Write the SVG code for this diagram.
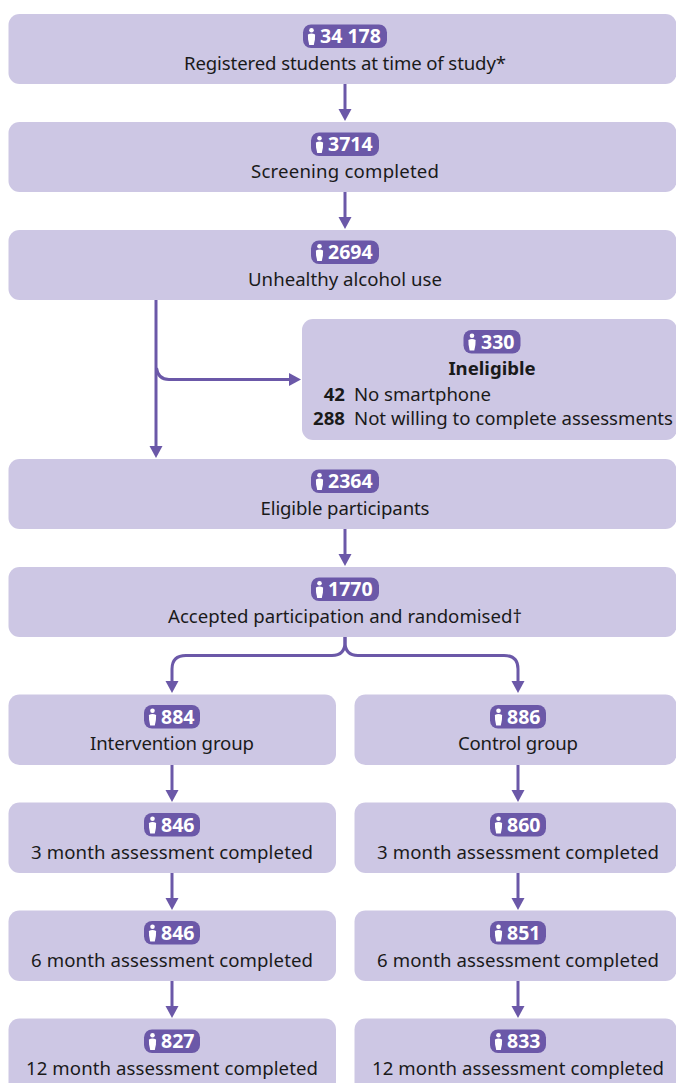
<svg xmlns="http://www.w3.org/2000/svg" width="676" height="1083" viewBox="0 0 676 1083">
<style>
text{font-family:"Noto Sans","Liberation Sans",sans-serif;fill:#1a1a1a;font-size:18.6px}
.c{text-anchor:middle}
.n{text-anchor:end;font-weight:700}
.t{font-weight:700}
.box{fill:#cdc7e4}
.pill{fill:#6b58a8}
.v{font-weight:700;fill:#fff;font-size:19.5px}
.con{fill:none;stroke:#6b58a8;stroke-width:3;marker-end:url(#ah)}
</style>
<defs>
<marker id="ah" markerUnits="userSpaceOnUse" markerWidth="13" markerHeight="14" refX="1" refY="7" orient="auto"><path d="M0 0.5L12 7L0 13.5Z" fill="#6b58a8"/></marker>
<g id="p"><circle cx="0" cy="5.800" r="2.300" fill="#fff"/><path d="M-3.600 10Q0 8.200 3.600 10L3.400 15L2.300 20.500H-2.300L-3.400 15Z" fill="#fff"/></g>
</defs>
<g id="connectors">
<path class="con" d="M345 84V110"/>
<path class="con" d="M345 192V218"/>
<path class="con" d="M156 300V447"/>
<path class="con" d="M156.500 368Q158 379.500 169 379.500H290"/>
<path class="con" d="M345 529V555"/>
<path class="con" d="M345 637V642Q345 655.500 332 655.500H186Q172 655.500 172 669V682"/>
<path class="con" d="M345 637V642Q345 655.500 358 655.500H504Q518 655.500 518 669V682"/>
<path class="con" d="M172 765V791"/><path class="con" d="M518 765V791"/>
<path class="con" d="M172 873V899"/><path class="con" d="M518 873V899"/>
<path class="con" d="M172 981V1007"/><path class="con" d="M518 981V1007"/>
</g>
<g id="n1"><rect class="box" x="8.500" y="14" width="668" height="70" rx="11"/><rect class="pill" x="303" y="24.500" width="84" height="23.500" rx="8"/><use href="#p" x="311.500" y="24.500"/><text class="v" x="320" y="43">34 178</text><text class="c" x="345" y="70" textLength="322">Registered students at time of study*</text></g>
<g id="n2"><rect class="box" x="8.500" y="122" width="668" height="70" rx="11"/><rect class="pill" x="311" y="132.500" width="68" height="23.500" rx="8"/><use href="#p" x="319.500" y="132.500"/><text class="v" x="328" y="151">3714</text><text class="c" x="345" y="178" textLength="188">Screening completed</text></g>
<g id="n3"><rect class="box" x="8.500" y="230" width="668" height="70" rx="11"/><rect class="pill" x="311" y="240.500" width="68" height="23.500" rx="8"/><use href="#p" x="319.500" y="240.500"/><text class="v" x="328" y="259">2694</text><text class="c" x="345" y="286" textLength="194">Unhealthy alcohol use</text></g>
<g id="n4"><rect class="box" x="302" y="319" width="375" height="121" rx="11"/><rect class="pill" x="463.500" y="330" width="57" height="23.500" rx="8"/><use href="#p" x="472" y="330"/><text class="v" x="481" y="349">330</text><text class="c t" x="492" y="375">Ineligible</text><text class="n" x="345" y="401">42</text><text x="354" y="401" textLength="137">No smartphone</text><text class="n" x="345" y="425">288</text><text x="354" y="425" textLength="319">Not willing to complete assessments</text></g>
<g id="n5"><rect class="box" x="8.500" y="459" width="668" height="70" rx="11"/><rect class="pill" x="311" y="469.500" width="68" height="23.500" rx="8"/><use href="#p" x="319.500" y="469.500"/><text class="v" x="328" y="488">2364</text><text class="c" x="345" y="515" textLength="169">Eligible participants</text></g>
<g id="n6"><rect class="box" x="8.500" y="567" width="668" height="70" rx="11"/><rect class="pill" x="311" y="577.500" width="68" height="23.500" rx="8"/><use href="#p" x="319.500" y="577.500"/><text class="v" x="328" y="596">1770</text><text class="c" x="345" y="623" textLength="354">Accepted participation and randomised†</text></g>
<g id="n7"><rect class="box" x="8.500" y="694.500" width="327.500" height="70.500" rx="11"/><rect class="pill" x="144" y="705" width="56" height="23.500" rx="8"/><use href="#p" x="152.500" y="705"/><text class="v" x="161" y="723.500">884</text><text class="c" x="172" y="750" textLength="164">Intervention group</text></g>
<g id="n8"><rect class="box" x="354.500" y="694.500" width="322" height="70.500" rx="11"/><rect class="pill" x="490" y="705" width="56" height="23.500" rx="8"/><use href="#p" x="498.500" y="705"/><text class="v" x="507" y="723.500">886</text><text class="c" x="518" y="750" textLength="120">Control group</text></g>
<g id="n9"><rect class="box" x="8.500" y="802.500" width="327.500" height="70.500" rx="11"/><rect class="pill" x="144" y="813" width="56" height="23.500" rx="8"/><use href="#p" x="152.500" y="813"/><text class="v" x="161" y="831.500">846</text><text class="c" x="172" y="858.500" textLength="282">3 month assessment completed</text></g>
<g id="n10"><rect class="box" x="354.500" y="802.500" width="322" height="70.500" rx="11"/><rect class="pill" x="490" y="813" width="56" height="23.500" rx="8"/><use href="#p" x="498.500" y="813"/><text class="v" x="507" y="831.500">860</text><text class="c" x="518" y="858.500" textLength="282">3 month assessment completed</text></g>
<g id="n11"><rect class="box" x="8.500" y="910.500" width="327.500" height="70.500" rx="11"/><rect class="pill" x="144" y="921" width="56" height="23.500" rx="8"/><use href="#p" x="152.500" y="921"/><text class="v" x="161" y="939.500">846</text><text class="c" x="172" y="966.500" textLength="282">6 month assessment completed</text></g>
<g id="n12"><rect class="box" x="354.500" y="910.500" width="322" height="70.500" rx="11"/><rect class="pill" x="490" y="921" width="56" height="23.500" rx="8"/><use href="#p" x="498.500" y="921"/><text class="v" x="507" y="939.500">851</text><text class="c" x="518" y="966.500" textLength="282">6 month assessment completed</text></g>
<g id="n13"><rect class="box" x="8.500" y="1018.500" width="327.500" height="75" rx="11"/><rect class="pill" x="144" y="1029.500" width="56" height="23.500" rx="8"/><use href="#p" x="152.500" y="1029.500"/><text class="v" x="161" y="1048">827</text><text class="c" x="172" y="1074.500" textLength="292">12 month assessment completed</text></g>
<g id="n14"><rect class="box" x="354.500" y="1018.500" width="322" height="75" rx="11"/><rect class="pill" x="490" y="1029.500" width="56" height="23.500" rx="8"/><use href="#p" x="498.500" y="1029.500"/><text class="v" x="507" y="1048">833</text><text class="c" x="518" y="1074.500" textLength="292">12 month assessment completed</text></g>
</svg>
